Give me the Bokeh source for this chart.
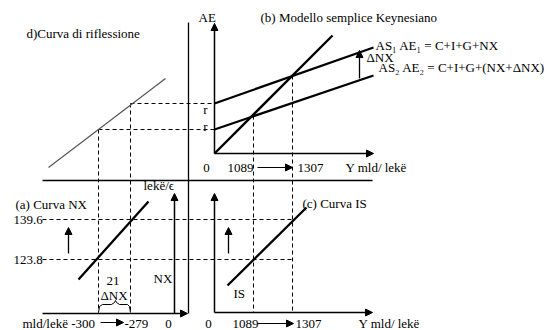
from bokeh.plotting import figure
from bokeh.models import Range1d, Arrow, NormalHead
from bokeh.core.properties import value
from bokeh.embed import file_html
from bokeh.resources import INLINE

# ---- values shown on the diagram (tick labels) ----
income_ticks = ["1089", "1307"]          # Y, mld/ lekë
rate_ticks = ["139.6", "123.8"]          # lekë/€ levels
nx_ticks = ["-300", "-279", "0"]         # NX, mld/lekë
delta_nx = "21"

# ---- schematic geometry (diagram units) ----
ae45_x = [214, 332]
ae45_y = [153, 35]
as1_x = [214, 373]
as1_y = [103, 47]
as2_x = [214, 373]
as2_y = [129, 75]
refl_x = [48, 165]
refl_y = [167, 78]
nx_x = [78, 148]
nx_y = [279, 201]
is_x = [227, 306]
is_y = [285, 207]

FONT = value("Liberation Serif")
FS = "13px"

p = figure(width=549, height=330, output_backend="svg", toolbar_location=None,
           x_range=Range1d(0, 549), y_range=Range1d(330, 0), min_border=0)
p.axis.visible = False
p.grid.visible = False
p.outline_line_color = None
p.background_fill_color = "white"
p.border_fill_color = "white"

def txt(x, y, s, align="left", size=FS):
    p.text(x=[x], y=[y], text=[s], text_font=FONT, text_font_size=size,
           text_align=align, text_baseline="middle", text_color="black")

def arrow(x0, y0, x1, y1, lw=1.5):
    p.add_layout(Arrow(end=NormalHead(size=7, fill_color="black", line_color="black", line_width=1),
                       x_start=x0, y_start=y0, x_end=x1, y_end=y1,
                       line_width=lw, line_color="black"))

dash = "4 3"
p.line([130, 214], [103, 103], line_dash=dash, line_color="black", line_width=1)
p.line([98, 214], [129, 129], line_dash=dash, line_color="black", line_width=1)
p.line([130, 130], [103, 312], line_dash=dash, line_color="black", line_width=1)
p.line([98, 98], [129, 312], line_dash=dash, line_color="black", line_width=1)
p.line([253, 253], [115, 312], line_dash=dash, line_color="black", line_width=1)
p.line([292, 292], [75, 312], line_dash=dash, line_color="black", line_width=1)
p.line([42, 293], [219, 219], line_dash=dash, line_color="black", line_width=1)
p.line([42, 293], [259, 259], line_dash=dash, line_color="black", line_width=1)

p.line([188, 188], [22, 313], line_color="black", line_width=1.3)
p.line([42, 372], [180, 180], line_color="black", line_width=1.3)

p.line(ae45_x, ae45_y, line_color="black", line_width=2.3)
p.line(as1_x, as1_y, line_color="black", line_width=2.3)
p.line(as2_x, as2_y, line_color="black", line_width=2.3)
p.line(refl_x, refl_y, line_color="#555555", line_width=1.2)
p.line(nx_x, nx_y, line_color="black", line_width=2.3)
p.line(is_x, is_y, line_color="black", line_width=2.3)

arrow(214, 153, 214, 23)
arrow(214, 153, 373, 153)
arrow(42, 313, 187, 313)
arrow(174, 313, 174, 193)
arrow(214, 312, 214, 193)
arrow(214, 312, 372, 312)
arrow(359, 78, 359, 50, lw=1.3)
arrow(68, 253, 68, 227, lw=1.3)
arrow(228, 253, 228, 227, lw=1.3)
arrow(257, 167, 292, 167, lw=1)
arrow(100, 322, 123, 322, lw=1)
arrow(257, 323, 293, 323, lw=1)

p.line([98, 99, 102, 111, 114, 115, 116, 119, 127, 129, 130],
       [312, 306, 304, 304, 302, 300, 302, 304, 304, 306, 312],
       line_color="black", line_width=1)

txt(26, 33, "d)Curva di riflessione")
txt(198, 17, "AE")
txt(260, 17, "(b)   Modello semplice Keynesiano")
txt(375, 45, "AS\u2081  AE\u2081 = C+I+G+NX")
txt(366, 57, "\u0394NX")
txt(378, 67, "AS\u2082  AE\u2082 = C+I+G+(NX+\u0394NX)")
txt(205, 109, "r", align="center")
txt(205, 126, "r", align="center")
txt(206, 167, "0", align="center")
txt(227, 167, income_ticks[0])
txt(297, 167, income_ticks[1])
txt(345, 167, "Y   mld/ lekë")

txt(143, 185, "lekë/\u03f5")
txt(15, 204, "(a) Curva  NX")
txt(13, 219, rate_ticks[0])
txt(13, 259, rate_ticks[1])
txt(153, 278, "NX")
txt(106, 280, delta_nx)
txt(100, 295, "\u0394NX")
txt(22, 323, "mld/lekë " + nx_ticks[0])
txt(124, 323, nx_ticks[1])
txt(168, 323, nx_ticks[2], align="center")

txt(302, 203, "(c) Curva IS")
txt(233, 293, "IS")
txt(208, 323, "0", align="center")
txt(232, 323, income_ticks[0])
txt(295, 323, income_ticks[1])
txt(358, 323, "Y  mld/ lekë")

open("out.html", "w").write(file_html(p, INLINE))
